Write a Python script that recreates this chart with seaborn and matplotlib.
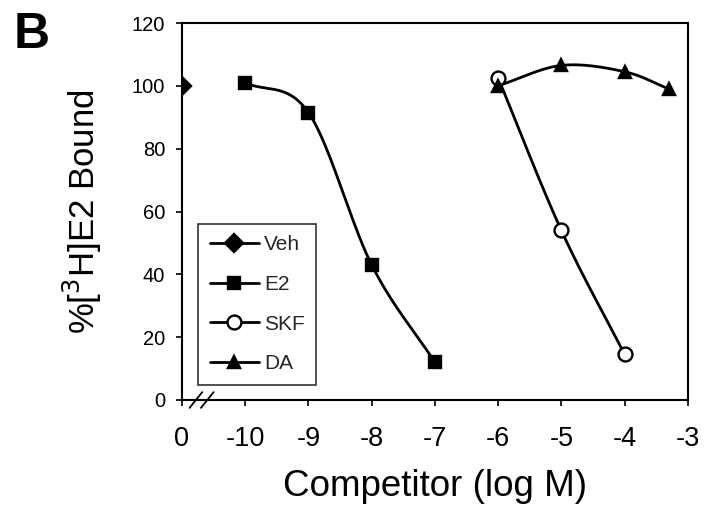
import numpy as np
import pandas as pd
import matplotlib
matplotlib.use("Agg")
import matplotlib.pyplot as plt
from matplotlib.lines import Line2D
import seaborn as sns

# ---- data (x in log M; vehicle plotted at the "0" slot) ----
veh_x = [0]
veh_y = [100]
e2_x = [-10, -9, -8, -7]
e2_y = [101, 91.5, 43, 12]
skf_x = [-6, -5, -4]
skf_y = [102.5, 54, 14.5]
da_x = [-6, -5, -4, -3.3]
da_y = [100, 106.5, 104.5, 99]
xtick_vals = [0, -10, -9, -8, -7, -6, -5, -4, -3]
xtick_labels = ["0", "-10", "-9", "-8", "-7", "-6", "-5", "-4", "-3"]
ytick_vals = [0, 20, 40, 60, 80, 100, 120]


def pos(x):
    """map log M value to axis position; 0 (vehicle) sits one slot left of -10"""
    x = np.asarray(x, dtype=float)
    return np.where(x == 0, -11.0, x)


def catmull_rom(x, y, n=60):
    x = np.asarray(x, float); y = np.asarray(y, float)
    k = len(x)
    if k < 3:
        return x, y
    P = np.column_stack([x, y])
    P = np.vstack([2 * P[0] - P[1], P, 2 * P[-1] - P[-2]])
    out = []
    t = np.linspace(0, 1, n)[:, None]
    for i in range(1, k):
        p0, p1, p2, p3 = P[i - 1], P[i], P[i + 1], P[i + 2]
        seg = 0.5 * ((2 * p1) + (-p0 + p2) * t + (2 * p0 - 5 * p1 + 4 * p2 - p3) * t**2
                     + (-p0 + 3 * p1 - 3 * p2 + p3) * t**3)
        out.append(seg if i == 1 else seg[1:])
    out = np.vstack(out)
    return out[:, 0], out[:, 1]


sns.set_theme(style="ticks")
plt.rcParams['font.family'] = ['Liberation Sans', 'DejaVu Sans']

fig = plt.figure(figsize=(7.04, 5.08), dpi=100)
ax = fig.add_axes([0.2585, 0.2126, 0.7185, 0.7421])

series = [
    ("Veh", veh_x, veh_y, "D", 9, "black"),
    ("E2", e2_x, e2_y, "s", 8, "black"),
    ("SKF", skf_x, skf_y, "o", 10, "white"),
    ("DA", da_x, da_y, "^", 9, "black"),
]

handles = []
for name, xs, ys, mk, ms, fc in series:
    px = pos(xs)
    sx, sy = catmull_rom(px, ys)
    if len(px) > 1:
        sns.lineplot(x=sx, y=sy, ax=ax, color="black", lw=2.0, sort=False, zorder=2)
    ax.plot(px, ys, ls="none", marker=mk, ms=ms, mfc=fc, mec="black", mew=1.7, zorder=3)
    handles.append(Line2D([], [], color="black", lw=2.0, marker=mk, ms=ms, mfc=fc,
                          mec="black", mew=1.7, label=name))

ax.set_xlim(-11, -3)
ax.set_ylim(0, 120)
ax.set_xticks(pos(xtick_vals))
ax.set_xticklabels(xtick_labels, fontsize=19.5)
ax.set_yticks(ytick_vals)
ax.set_yticklabels([str(v) for v in ytick_vals], fontsize=14.5)
ax.tick_params(axis="both", direction="out", length=4, width=1.2, colors="black")
ax.tick_params(axis="y", pad=8)
ax.tick_params(axis="x", pad=15)
for s in ax.spines.values():
    s.set_color("black"); s.set_linewidth(1.5)

ax.set_xlabel("Competitor (log M)", fontsize=26.5, labelpad=12, color="black")
ax.set_ylabel("%[$^{3}$H]E2 Bound", fontsize=25, labelpad=20, color="black")

# axis break marks
for xb in (-10.78, -10.6):
    ax.plot([xb - 0.1, xb + 0.1], [-2.5, 2.5], color="black", lw=1.3,
            transform=ax.transData, clip_on=False, zorder=4)

leg = ax.legend(handles=handles, loc="lower left", bbox_to_anchor=(0.032, 0.04),
                borderaxespad=0, fontsize=15, frameon=True, fancybox=False,
                handlelength=2.35, handletextpad=0.25, labelspacing=1.0,
                borderpad=0.55, edgecolor="black")
leg.get_frame().set_linewidth(1.2)

fig.text(0.02, 0.905, "B", fontsize=36, fontweight="bold", color="black")

fig.savefig("out.png", dpi=100)
